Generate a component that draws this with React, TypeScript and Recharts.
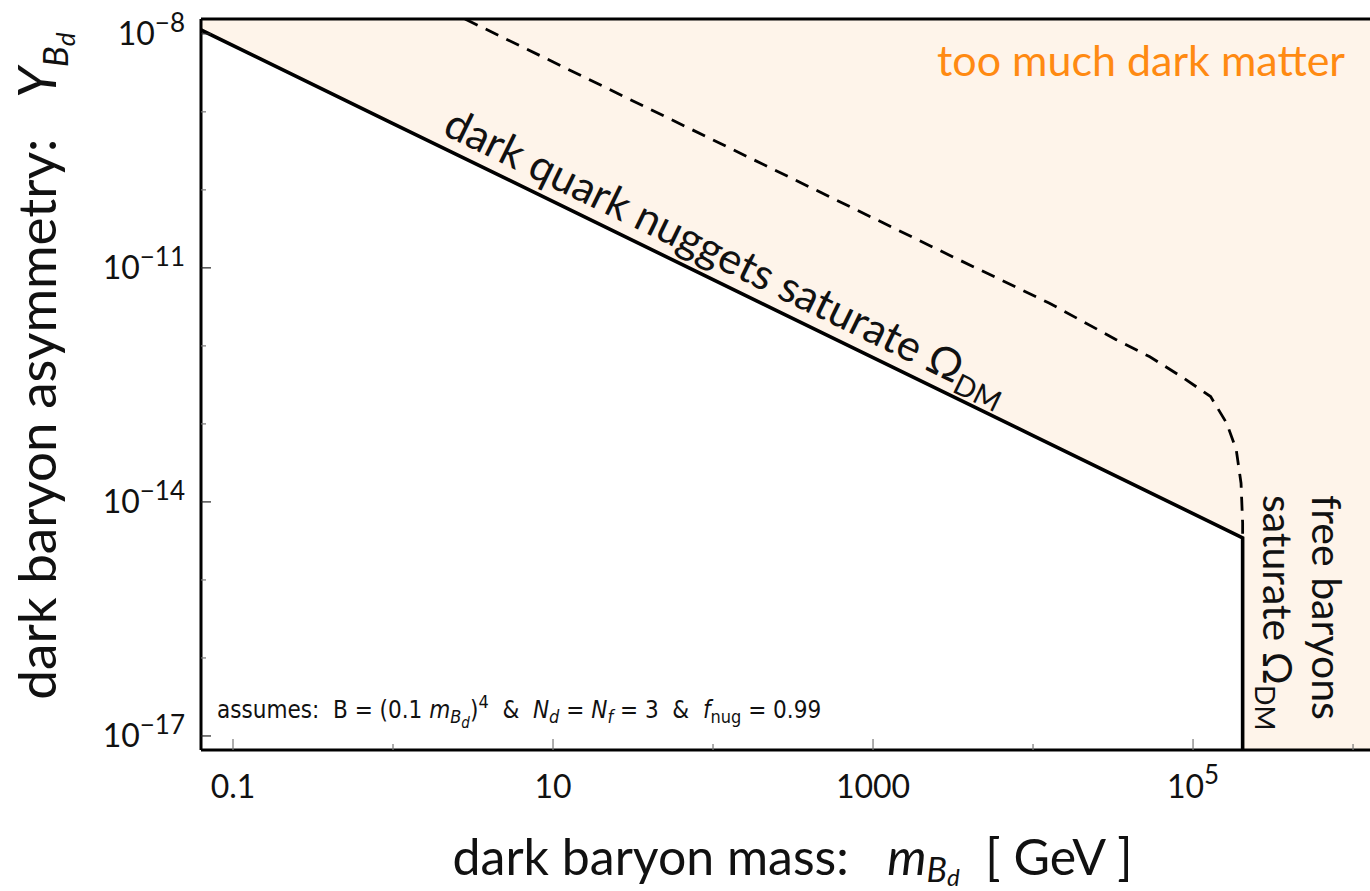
import React from 'react'
import { ComposedChart, Line, Area, XAxis, YAxis, ReferenceDot } from 'recharts'

// everything is log10: x = log10(m_Bd / GeV), y = log10(Y_Bd)
const xDomain = [-1.2, 6.106]
const yDomain = [-17.18, -7.81]

const xTicks = [-1, 0, 1, 2, 3, 4, 5, 6]
const xMajor = [-1, 1, 3, 5]
const yTicks = [-17, -16, -15, -14, -13, -12, -11, -10, -9, -8]
const yMajor = [-17, -14, -11, -8]

// solid: nuggets saturate Omega_DM, then the free baryon wall
const nuggetLogM = [-1.2, 0, 2, 4, 5.31, 5.31]
const nuggetLogY = [-7.95, -9.15, -11.15, -13.15, -14.46, -17.18]

// dashed boundary
const boundLogM = [0.45, 1.5, 2.5, 3.5, 4.1, 4.52, 4.73, 4.94, 5.11, 5.21, 5.27, 5.3, 5.31, 5.31]
const boundLogY = [-7.81, -8.86, -9.86, -10.86, -11.45, -11.92, -12.14, -12.41, -12.65, -12.99, -13.33, -13.76, -14.27, -14.46]

// shaded region: lower edge, upper edge is the top of the frame
const shadeLogM = [-1.2, 5.31, 5.31, 6.106]
const shadeLow = [-7.95, -14.46, -17.18, -17.18]

const nuggetData = nuggetLogM.map((x, i) => ({ x, y: nuggetLogY[i] }))
const boundData = boundLogM.map((x, i) => ({ x, y: boundLogY[i] }))
const shadeData = shadeLogM.map((x, i) => ({ x, band: [shadeLow[i], yDomain[1]] }))

const FONT = 'Lato, "Open Sans", sans-serif'
const NARROW = '"Liberation Sans Narrow", "DejaVu Sans Condensed", sans-serif'
const FILL = '#fef4ea'
const ORANGE = '#ff8a12'

function xLabel(v: number) {
  if (v === -1) return '0.1'
  if (v === 1) return '10'
  if (v === 3) return '1000'
  return null
}

function BottomTick(props: any) {
  const { x, y, payload } = props
  const v = payload.value
  const major = xMajor.includes(v)
  const lbl = xLabel(v)
  return (
    <g>
      <line x1={x} x2={x} y1={y} y2={y - (major ? 11 : 6)} stroke="#777" strokeWidth={1.2} />
      {major && (
        <text x={x} y={y + 48} textAnchor="middle" fontFamily={FONT} fontSize={32} fill="#111">
          {lbl ?? (
            <>
              10<tspan dy={-14} fontSize={26}>{v}</tspan>
            </>
          )}
        </text>
      )}
    </g>
  )
}

function TopTick(props: any) {
  const { x, y, payload } = props
  const major = xMajor.includes(payload.value)
  return <line x1={x} x2={x} y1={y} y2={y + (major ? 11 : 6)} stroke="#777" strokeWidth={1.2} />
}

function LeftTick(props: any) {
  const { x, y, payload } = props
  const v = payload.value
  const major = yMajor.includes(v)
  return (
    <g>
      <line x1={x} x2={x + (major ? 10 : 5)} y1={y} y2={y} stroke={major ? '#222' : '#777'} strokeWidth={1.2} />
      {major && (
        <text x={x - 16} y={y + 11} textAnchor="end" fontFamily={FONT} fontSize={32} fill="#111">
          10<tspan dy={-13} fontSize={26}>{'\u2212' + Math.abs(v)}</tspan>
        </text>
      )}
    </g>
  )
}

function XTitle(props: any) {
  const vb = props.viewBox
  return (
    <text x={vb.x + vb.width / 2 + 7} y={875} textAnchor="middle" fontFamily={FONT} fontSize={50} fill="#111">
      {'dark baryon mass:\u00a0\u00a0\u00a0'}
      <tspan fontStyle="italic">m</tspan>
      <tspan fontStyle="italic" fontSize={34} dy={7}>B</tspan>
      <tspan fontStyle="italic" fontSize={24} dy={4}>d</tspan>
      <tspan fontSize={50} dy={-11}>{'\u00a0\u00a0[ GeV ]'}</tspan>
    </text>
  )
}

function YTitle() {
  return (
    <text x={56} y={366} transform="rotate(-90 56 366)" textAnchor="middle" fontFamily={FONT} fontSize={53} fill="#111">
      {'dark baryon asymmetry:\u00a0\u00a0\u00a0'}
      <tspan fontStyle="italic">Y</tspan>
      <tspan fontStyle="italic" fontSize={35} dy={12}>B</tspan>
      <tspan fontStyle="italic" fontSize={26} dy={7}>d</tspan>
    </text>
  )
}

const tooMuch = (p: any) => (
  <text x={p.cx} y={p.cy} textAnchor="end" fontFamily={FONT} fontSize={43} fill={ORANGE}>
    too much dark matter
  </text>
)

const nuggetLabel = (p: any) => (
  <text
    x={p.cx}
    y={p.cy}
    dy={-12}
    transform={`rotate(26 ${p.cx} ${p.cy})`}
    textAnchor="middle"
    fontFamily={FONT}
    fontSize={43}
    fill="#111"
  >
    {'dark quark nuggets saturate \u03a9'}
    <tspan fontSize={29} dy={8}>DM</tspan>
  </text>
)

const freeLabel = (p: any) => (
  <g transform={`translate(${p.cx} ${p.cy}) rotate(90)`} fontFamily={FONT} fontSize={41} fill="#111">
    <text x={0} y={0}>free baryons</text>
    <text x={0} y={49}>
      {'saturate \u03a9'}
      <tspan fontSize={27} dy={8}>DM</tspan>
    </text>
  </g>
)

const assumesLabel = (p: any) => (
  <text x={p.cx} y={p.cy} fontFamily={NARROW} fontSize={24} fill="#111">
    {'assumes:\u00a0 B = (0.1 '}
    <tspan fontStyle="italic">m</tspan>
    <tspan fontStyle="italic" fontSize={18} dy={5}>B</tspan>
    <tspan fontStyle="italic" fontSize={15} dy={5}>d</tspan>
    <tspan dy={-10}>)</tspan>
    <tspan fontSize={18} dy={-10}>4</tspan>
    <tspan dy={10}>{'\u00a0 &\u00a0 '}</tspan>
    <tspan fontStyle="italic">N</tspan>
    <tspan fontStyle="italic" fontSize={18} dy={5}>d</tspan>
    <tspan dy={-5}>{' = '}</tspan>
    <tspan fontStyle="italic">N</tspan>
    <tspan fontStyle="italic" fontSize={18} dy={5}>f</tspan>
    <tspan dy={-5}>{' = 3\u00a0 &\u00a0 '}</tspan>
    <tspan fontStyle="italic">f</tspan>
    <tspan fontSize={18} dy={5}>nug</tspan>
    <tspan dy={-5}>{' = 0.99'}</tspan>
  </text>
)

const frame = { stroke: '#000', strokeWidth: 3 }

export default function App() {
  return (
    <div style={{ position: 'absolute', left: 0, top: 0, width: 1370, height: 891, overflow: 'hidden', background: '#fff' }}>
      <ComposedChart width={1370} height={891} margin={{ top: 18, right: 0, bottom: 81, left: 0 }}>
        <Area
          data={shadeData}
          dataKey="band"
          type="linear"
          stroke="none"
          fill={FILL}
          fillOpacity={1}
          isAnimationActive={false}
        />
        <XAxis
          dataKey="x"
          type="number"
          domain={xDomain}
          ticks={xTicks}
          interval={0}
          allowDataOverflow
          height={60}
          tickSize={0}
          tickMargin={0}
          tick={BottomTick}
          axisLine={frame}
          label={{ content: XTitle }}
        />
        <XAxis
          xAxisId="top"
          orientation="top"
          type="number"
          domain={xDomain}
          ticks={xTicks}
          interval={0}
          allowDataOverflow
          height={1}
          tickSize={0}
          tickMargin={0}
          tick={TopTick}
          axisLine={frame}
        />
        <YAxis
          type="number"
          domain={yDomain}
          ticks={yTicks}
          interval={0}
          allowDataOverflow
          width={201}
          tickSize={0}
          tickMargin={0}
          tick={LeftTick}
          axisLine={frame}
          label={{ content: YTitle }}
        />
        <Line
          data={boundData}
          dataKey="y"
          type="linear"
          stroke="#000"
          strokeWidth={2.8}
          strokeDasharray="14 9"
          dot={false}
          isAnimationActive={false}
        />
        <Line
          data={nuggetData}
          dataKey="y"
          type="linear"
          stroke="#000"
          strokeWidth={3.6}
          dot={false}
          isAnimationActive={false}
        />
        <ReferenceDot x={5.95} y={-8.54} r={0} ifOverflow="visible" shape={tooMuch} />
        <ReferenceDot x={2.01} y={-11.16} r={0} ifOverflow="visible" shape={nuggetLabel} />
        <ReferenceDot x={5.744} y={-13.91} r={0} ifOverflow="visible" shape={freeLabel} />
        <ReferenceDot x={-1.1} y={-16.77} r={0} ifOverflow="visible" shape={assumesLabel} />
      </ComposedChart>
    </div>
  )
}
